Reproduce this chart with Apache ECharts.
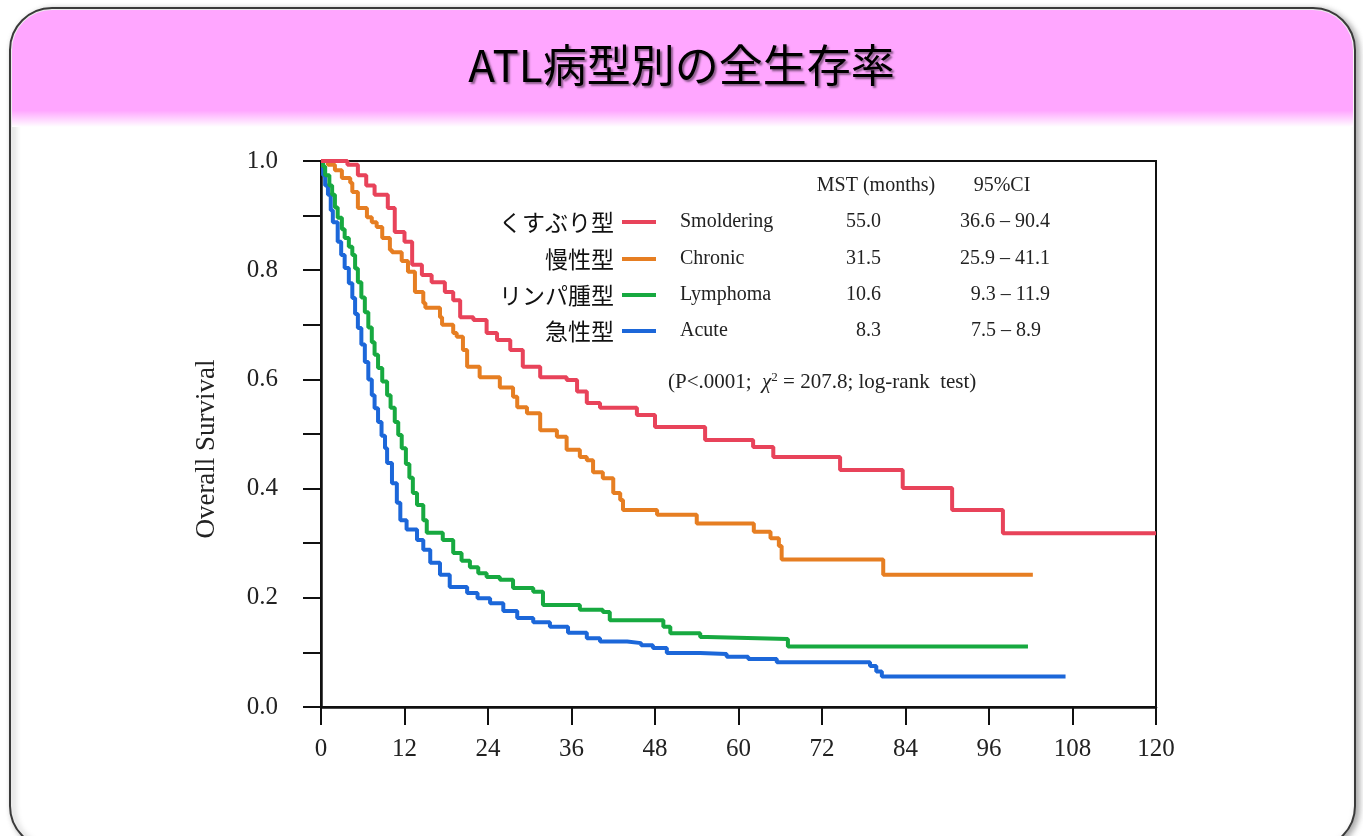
<!DOCTYPE html>
<html>
<head>
<meta charset="utf-8">
<script src="https://cdn.jsdelivr.net/npm/echarts@6/dist/echarts.min.js"></script>
<style>
html,body{margin:0;padding:0;background:#fff;}
#chart{width:1363px;height:836px;}
</style>
</head>
<body>
<div id="chart"></div>
<script>
// ---- Data (months, overall survival) ----
const smoldering = [[0,1.0],[3.0,1.0],[3.8,0.993],[5.3,0.974],[6.5,0.955],[7.7,0.938],[9.6,0.914],[10.6,0.87],[12,0.852],[13.1,0.81],[14.5,0.791],[15.9,0.778],[17.8,0.76],[19,0.745],[20,0.714],[21.9,0.709],[23.8,0.685],[25.3,0.672],[27.2,0.654],[29,0.623],[31.5,0.604],[35.3,0.599],[36.8,0.578],[38.2,0.557],[40.1,0.548],[45.4,0.535],[48,0.513],[55.2,0.489],[62.1,0.476],[65,0.458],[74.6,0.434],[83.6,0.401],[90.7,0.361],[98,0.318],[120,0.318]];
const chronic = [[0,1.0],[1,0.993],[2,0.983],[3,0.969],[4.2,0.96],[4.5,0.943],[5.3,0.914],[6.6,0.897],[7.3,0.888],[8,0.879],[8.8,0.859],[9.9,0.837],[10.2,0.833],[11.6,0.817],[12.5,0.797],[13.5,0.76],[14.7,0.74],[15,0.731],[17.1,0.714],[17.4,0.7],[19,0.685],[19.5,0.678],[20.4,0.654],[21,0.623],[22.8,0.604],[25.7,0.585],[27.6,0.568],[28.2,0.549],[29.6,0.538],[31.5,0.507],[33.9,0.495],[35.3,0.471],[37.2,0.458],[38.2,0.452],[39.1,0.43],[40.5,0.419],[42,0.392],[43,0.379],[43.4,0.361],[48.3,0.352],[54,0.336],[62.2,0.321],[64.6,0.309],[65.8,0.295],[66.2,0.27],[80.8,0.242],[102.3,0.242]];
const lymphoma = [[0,1.0],[0.3,0.99],[0.6,0.974],[1.2,0.955],[1.6,0.938],[2.0,0.915],[2.4,0.896],[3.0,0.875],[3.4,0.859],[4.0,0.843],[4.5,0.828],[4.9,0.803],[5.3,0.778],[5.8,0.75],[6.3,0.723],[6.8,0.695],[7.3,0.668],[7.7,0.645],[8.2,0.621],[8.8,0.596],[9.5,0.571],[10.0,0.548],[10.6,0.522],[11.1,0.498],[11.6,0.474],[12.2,0.445],[12.7,0.42],[13.2,0.392],[13.8,0.37],[14.7,0.342],[15.2,0.319],[17.5,0.306],[19,0.282],[20.2,0.268],[21.4,0.256],[22.6,0.245],[23.8,0.238],[25.7,0.233],[27.6,0.218],[30.5,0.211],[31.9,0.187],[37.2,0.178],[40.5,0.174],[41.5,0.159],[49.2,0.147],[50.2,0.135],[54.5,0.128],[55.5,0.1245],[67.1,0.111],[101.6,0.111]];
const acute = [[0,1.0],[0.3,0.974],[0.6,0.955],[1,0.938],[1.4,0.91],[1.7,0.888],[2.4,0.852],[2.9,0.828],[3.4,0.804],[4.0,0.776],[4.5,0.749],[4.9,0.72],[5.3,0.694],[5.8,0.664],[6.3,0.632],[6.8,0.6],[7.3,0.571],[7.7,0.547],[8.2,0.522],[8.7,0.497],[9.2,0.474],[9.5,0.447],[10.2,0.41],[10.9,0.374],[11.4,0.342],[12.3,0.325],[13.8,0.306],[14.7,0.288],[15.7,0.264],[17.1,0.242],[18.5,0.22],[21,0.209],[22.5,0.199],[24.3,0.19],[26.2,0.176],[28.2,0.163],[30.5,0.155],[32.9,0.147],[35.5,0.136],[38.2,0.126],[40.1,0.12],[44,0.117],[46,0.113],[47.7,0.108],[49.7,0.099],[54.5,0.097],[58.3,0.092],[61.4,0.088],[65.5,0.082],[78.9,0.075],[79.8,0.065],[80.6,0.056],[107,0.056]];

const typeNamesJa = ['くすぶり型','慢性型','リンパ腫型','急性型'];
const typeNamesEn = ['Smoldering','Chronic','Lymphoma','Acute'];
const mstMonths = ['55.0','31.5','10.6','8.3'];
const ci95 = ['36.6 – 90.4','25.9 – 41.1','9.3 – 11.9','7.5 – 8.9'];
const colors = ['#E8435A','#E67E22','#17A940','#1C67D9'];
const seriesData = [smoldering, chronic, lymphoma, acute];

const titleText = 'ATL病型別の全生存率';
const xTickStep = 12;

const serif = '"Liberation Serif","DejaVu Serif",serif';
const jp = '"Noto Sans CJK JP","Noto Sans",sans-serif';

const chart = echarts.init(document.getElementById('chart'), null, {renderer:'canvas'});

const rowY = [222, 259, 295, 331];
const graphics = [
  // outer rounded frame
  {type:'rect', z:-10, shape:{x:10,y:8,width:1345,height:840,r:42},
   style:{fill:'#fff', stroke:'#3a3a3a', lineWidth:2, shadowBlur:6, shadowColor:'rgba(0,0,0,0.35)', shadowOffsetX:3, shadowOffsetY:2}},
  // pink header
  {type:'rect', z:-9, shape:{x:12,y:10,width:1341,height:117,r:[40,40,0,0]},
   style:{fill:{type:'linear',x:0,y:0,x2:0,y2:1,colorStops:[
     {offset:0,color:'#FFA6FF'},{offset:0.86,color:'#FFA6FF'},{offset:1,color:'rgba(255,255,255,1)'}]}}},
  // y axis name
  {type:'text', x:207, y:449, rotation:Math.PI/2, z:5,
   style:{text:'Overall Survival', font:'27px '+serif, fill:'#222', textAlign:'center', textVerticalAlign:'middle'}},
  // table header
  {type:'text', x:876, y:186, style:{text:'MST (months)', font:'20px '+serif, fill:'#222', textAlign:'center', textVerticalAlign:'middle'}},
  {type:'text', x:1002, y:186, style:{text:'95%CI', font:'20px '+serif, fill:'#222', textAlign:'center', textVerticalAlign:'middle'}},
  // p-value line
  {type:'text', x:668, y:382, style:{
    text:'{a|(P<.0001;  }{i|χ}{s|2}{a| = 207.8; log-rank  test)}',
    rich:{a:{font:'21px '+serif, fill:'#222'}, i:{font:'italic 21px '+serif, fill:'#222'}, s:{font:'13px '+serif, fill:'#222', verticalAlign:'top', padding:[0,0,9,0]}},
    textVerticalAlign:'middle', textAlign:'left'}}
];
const ciRight = [1050,1050,1050,1041];
for (let i=0;i<4;i++){
  graphics.push({type:'text', x:614, y:rowY[i], style:{text:typeNamesJa[i], font:'23px '+jp, fill:'#111', textAlign:'right', textVerticalAlign:'middle'}});
  graphics.push({type:'line', shape:{x1:622,y1:rowY[i],x2:656,y2:rowY[i]}, style:{stroke:colors[i], lineWidth:4}});
  graphics.push({type:'text', x:680, y:rowY[i], style:{text:typeNamesEn[i], font:'20px '+serif, fill:'#222', textAlign:'left', textVerticalAlign:'middle'}});
  graphics.push({type:'text', x:881, y:rowY[i], style:{text:mstMonths[i], font:'20px '+serif, fill:'#222', textAlign:'right', textVerticalAlign:'middle'}});
  graphics.push({type:'text', x:ciRight[i], y:rowY[i], style:{text:ci95[i], font:'20px '+serif, fill:'#222', textAlign:'right', textVerticalAlign:'middle'}});
}

const option = {
  animation:false,
  backgroundColor:'#fff',
  title:{text:titleText, left:'center', top:38,
    textStyle:{fontFamily:jp, fontSize:44, fontWeight:'normal', color:'#000',
      textShadowColor:'rgba(0,0,0,0.45)', textShadowBlur:2, textShadowOffsetX:2, textShadowOffsetY:2}},
  grid:{left:321, top:161, width:835, height:546, show:true, borderColor:'#111', borderWidth:2, backgroundColor:'transparent'},
  xAxis:{type:'value', min:0, max:120, interval:xTickStep,
    axisLine:{show:true, lineStyle:{color:'#111', width:2.5}},
    axisTick:{show:true, length:18, lineStyle:{color:'#111', width:2}},
    axisLabel:{margin:30, fontFamily:serif, fontSize:25, color:'#222'},
    splitLine:{show:false}},
  yAxis:{type:'value', min:0, max:1, interval:0.1,
    axisLine:{show:true, lineStyle:{color:'#111', width:2.5}},
    axisTick:{show:true, length:18, lineStyle:{color:'#111', width:2}},
    axisLabel:{margin:43, fontFamily:serif, fontSize:25, color:'#222',
      formatter:function(v){const k=Math.round(v*10); return k%2===0 ? (k/10).toFixed(1) : '';}},
    splitLine:{show:false}},
  series: seriesData.map(function(d,i){
    return {name:typeNamesEn[i], type:'line', step:'end', data:d, showSymbol:false, symbol:'none',
      lineStyle:{color:colors[i], width:4}, itemStyle:{color:colors[i]}, z:3+(3-i)};
  }),
  graphic: graphics
};
chart.setOption(option);
</script>
</body>
</html>
